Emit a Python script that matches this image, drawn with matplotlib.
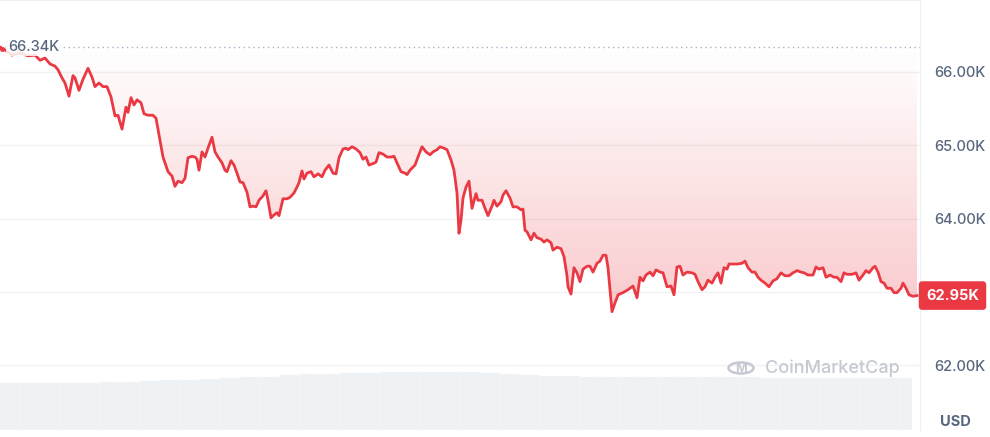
import numpy as np
import matplotlib
matplotlib.use("Agg")
import matplotlib.pyplot as plt
from matplotlib.patches import Circle

plt.rcParams['font.family'] = ['Inter', 'DejaVu Sans']

# BTC price over one day (time in chart units, price in thousands USD)
t = [0, 5, 12, 20, 28, 35, 40, 45, 50, 55, 58, 62, 65, 69, 73, 75, 79, 83, 88, 92,
     95, 99, 103, 107, 111, 115, 118, 122, 126, 128, 131, 134, 137, 141, 144, 148, 153,
     156, 160, 163, 168, 172, 175, 178, 182, 185, 188, 192, 195, 197, 199, 202, 205,
     208, 212, 215, 218, 222, 225, 227, 231, 234, 237, 240, 243, 247, 250, 253, 256,
     259, 263, 266, 268, 271, 274, 277, 279, 283, 287, 290, 294, 297, 299, 302, 304,
     307, 311, 314, 318, 322, 325, 329, 333, 336, 339, 343, 346, 348, 352, 356, 360,
     363, 366, 369, 373, 376, 379, 383, 387, 391, 394, 397, 401, 405, 407, 410, 415,
     418, 422, 426, 430, 433, 437, 440, 444, 447, 451, 454, 457, 459, 461, 463, 466,
     469, 472, 476, 478, 482, 485, 488, 492, 494, 497, 501, 503, 506, 510, 513, 517,
     521, 523, 525, 527, 531, 534, 537, 541, 544, 547, 551, 553, 557, 561, 564, 567,
     568, 571, 574, 577, 580, 583, 587, 590, 593, 597, 600, 603, 606, 608, 612, 615,
     618, 623, 628, 633, 637, 640, 643, 646, 650, 653, 656, 660, 663, 667, 671, 674,
     677, 680, 683, 687, 692, 695, 698, 702, 705, 708, 712, 715, 718, 721, 724, 727,
     729, 733, 737, 742, 745, 748, 752, 755, 758, 761, 765, 769, 773, 777, 781, 785,
     789, 793, 797, 801, 804, 808, 813, 816, 819, 823, 826, 830, 834, 837, 841, 844,
     847, 852, 856, 859, 863, 866, 869, 873, 875, 878, 881, 884, 887, 891, 894, 897,
     901, 903, 906, 909, 913, 917]
price = [66.34, 66.30, 66.23, 66.26, 66.22, 66.23, 66.16, 66.19, 66.11, 66.08, 66.03,
         65.92, 65.85, 65.67, 65.95, 65.92, 65.75, 65.90, 66.05, 65.93, 65.80, 65.85,
         65.80, 65.80, 65.66, 65.40, 65.41, 65.22, 65.52, 65.45, 65.65, 65.55, 65.62,
         65.58, 65.43, 65.41, 65.41, 65.37, 65.07, 64.84, 64.64, 64.58, 64.44, 64.51,
         64.49, 64.55, 64.83, 64.85, 64.84, 64.81, 64.66, 64.91, 64.84, 64.96, 65.11,
         64.91, 64.84, 64.76, 64.66, 64.64, 64.79, 64.73, 64.62, 64.50, 64.49, 64.36,
         64.16, 64.17, 64.16, 64.25, 64.31, 64.38, 64.25, 64.01, 64.05, 64.08, 64.04,
         64.27, 64.27, 64.29, 64.35, 64.43, 64.49, 64.65, 64.54, 64.62, 64.64, 64.57,
         64.61, 64.57, 64.66, 64.73, 64.62, 64.61, 64.83, 64.95, 64.96, 64.94, 64.98,
         64.95, 64.90, 64.81, 64.84, 64.73, 64.75, 64.77, 64.90, 64.88, 64.84, 64.84,
         64.85, 64.76, 64.64, 64.62, 64.60, 64.66, 64.73, 64.84, 64.98, 64.91, 64.87,
         64.91, 64.94, 64.98, 64.96, 64.94, 64.80, 64.66, 64.35, 63.80, 63.98, 64.28,
         64.43, 64.51, 64.14, 64.34, 64.25, 64.25, 64.14, 64.04, 64.17, 64.25, 64.17,
         64.23, 64.32, 64.38, 64.28, 64.16, 64.16, 64.12, 64.13, 63.84, 63.82, 63.71,
         63.80, 63.74, 63.72, 63.68, 63.71, 63.67, 63.57, 63.61, 63.59, 63.48, 63.22,
         63.07, 62.97, 63.33, 63.26, 63.14, 63.31, 63.35, 63.35, 63.27, 63.39, 63.42,
         63.50, 63.50, 63.33, 62.73, 62.85, 62.96, 62.99, 63.03, 63.08, 62.92, 63.20,
         63.15, 63.23, 63.27, 63.22, 63.30, 63.27, 63.26, 63.07, 63.08, 62.96, 63.34,
         63.35, 63.23, 63.27, 63.26, 63.24, 63.14, 63.03, 63.07, 63.16, 63.12, 63.20,
         63.26, 63.12, 63.33, 63.31, 63.38, 63.38, 63.38, 63.39, 63.42, 63.33, 63.27,
         63.27, 63.20, 63.16, 63.12, 63.07, 63.15, 63.18, 63.26, 63.22, 63.22, 63.26,
         63.29, 63.27, 63.26, 63.23, 63.23, 63.34, 63.31, 63.33, 63.20, 63.23, 63.20,
         63.20, 63.14, 63.26, 63.24, 63.24, 63.26, 63.16, 63.23, 63.29, 63.26, 63.33,
         63.35, 63.27, 63.14, 63.12, 63.05, 63.05, 62.99, 62.99, 63.05, 63.12, 63.05,
         62.96, 62.94, 62.95]

open_price = 66.34
last_price = 62.95

# volume (relative units), one bar per 20 time units
vol_t = list(range(0, 920, 20))
volume = [47, 47, 47, 47, 47, 48, 48, 49, 50, 50, 51, 52, 53, 53, 55, 56, 56, 57, 57,
          58, 58, 58, 58, 58, 57, 56, 55, 54, 54, 53, 53, 53, 53, 53, 53, 53, 53, 53,
          52, 52, 52, 52, 52, 52, 52, 52]

y_ticks = [62, 63, 64, 65, 66]

red = '#ea3943'
grey = '#58667e'

fig = plt.figure(figsize=(9.9, 4.37), dpi=100)

# volume strip at the bottom
vax = fig.add_axes([0, 7 / 437, 912 / 990, 70 / 437])
vax.bar(vol_t, volume, width=20, align='edge', color='#eff2f5', edgecolor='#f7f8fa', linewidth=0.3)
vax.set_xlim(0, 912)
vax.set_ylim(0, 70)
vax.axis('off')

ax = fig.add_axes([0, 7 / 437, 920 / 990, 430 / 437])
ax.patch.set_alpha(0)
ax.set_xlim(0, 920)
ax.set_ylim(61.116, 66.982)

# gradient fill between the line and the open price
lo = min(price)
grad = np.linspace(0.27, 0.0, 256).reshape(-1, 1)
rgba = np.zeros((256, 1, 4))
rgba[..., 0] = 234 / 255
rgba[..., 1] = 57 / 255
rgba[..., 2] = 67 / 255
rgba[..., 3] = grad
poly = ax.fill_between(t, price, open_price, color='none', lw=0)
img = ax.imshow(rgba, extent=[0, 920, lo, open_price], origin='lower', aspect='auto', zorder=1)
img.set_clip_path(poly.get_paths()[0], transform=ax.transData)

ax.plot(t, price, color=red, lw=2, zorder=3, solid_joinstyle='round')
ax.axhline(open_price, color='#a6b0c3', lw=1, ls=(0, (1, 2.5)), zorder=2)

for v in y_ticks:
    ax.axhline(v, color='#f1f2f4', lw=1, zorder=0)

# the 63K label sits under the last-price tag
ax.yaxis.tick_right()
ax.set_yticks(y_ticks)
ax.set_yticklabels(['' if v == 63 else f'{v:.2f}K' for v in y_ticks],
                   color=grey, fontsize=10.5, fontweight='medium')
ax.tick_params(axis='y', length=0, pad=10)
ax.set_xticks([])
for s in ['left', 'bottom']:
    ax.spines[s].set_visible(False)
ax.spines['top'].set_color('#eef0f3')
ax.spines['right'].set_color('#eef0f3')

# open price label
ax.text(8, open_price, '66.34K', color=grey, fontsize=10.5, fontweight='medium', va='center', ha='left',
        zorder=4, bbox=dict(boxstyle='square,pad=0.12', fc='white', ec='none', alpha=0.85))
ax.plot([2], [open_price - 0.02], marker='o', ms=2.5, color=red, zorder=5)

# last price tag
ax.text(952.5, last_price, '62.95K', color='white', fontsize=10.5, fontweight='bold',
        ha='center', va='center', zorder=6, clip_on=False,
        bbox=dict(boxstyle='round,pad=0.5,rounding_size=0.25', fc=red, ec='none'))

# watermark
wm = '#c4c9d2'
fig.text(765 / 990, 1 - 368 / 437, 'CoinMarketCap', color=wm, fontsize=13, fontweight='medium',
         ha='left', va='center')
fig.patches.append(Circle((741 / 990, 1 - 368 / 437), 12.5 / 990, transform=fig.transFigure,
                          fill=False, ec=wm, lw=1.8))
fig.text(741 / 990, 1 - 369 / 437, 'M', color=wm, fontsize=9, fontweight='bold', ha='center', va='center')

fig.text(955 / 990, 1 - 422 / 437, 'USD', color=grey, fontsize=10.5, fontweight='bold', ha='center', va='center')

fig.savefig('out.png', dpi=100)
